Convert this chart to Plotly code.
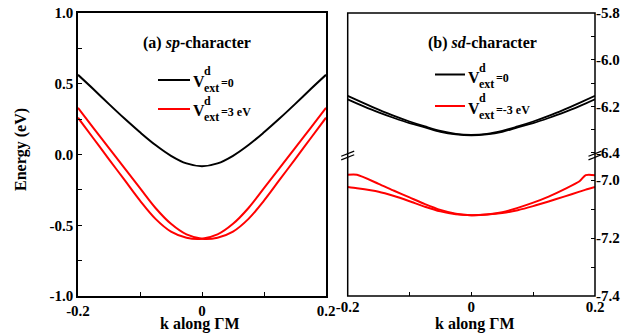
import plotly.graph_objects as go

# ---------------- data ----------------
k = [-0.2, -0.175, -0.15, -0.125, -0.1, -0.075, -0.05, -0.025, 0.0,
     0.025, 0.05, 0.075, 0.1, 0.125, 0.15, 0.175, 0.2]

# (a) sp-character
sp_black = [0.563, 0.461, 0.356, 0.254, 0.157, 0.067, -0.009, -0.063, -0.083,
            -0.063, -0.009, 0.067, 0.157, 0.254, 0.356, 0.461, 0.563]
sp_red_1 = [0.330, 0.187, 0.045, -0.097, -0.238, -0.378, -0.490, -0.565, -0.595,
            -0.588, -0.545, -0.455, -0.326, -0.180, -0.034, 0.113, 0.260]
sp_red_2 = [0.260, 0.113, -0.034, -0.180, -0.326, -0.455, -0.545, -0.588, -0.595,
            -0.565, -0.490, -0.378, -0.238, -0.097, 0.045, 0.187, 0.330]

# (b) sd-character, upper part of broken axis
sd_black_1 = [-6.155, -6.185, -6.214, -6.241, -6.265, -6.286, -6.305, -6.318, -6.322,
              -6.318, -6.305, -6.286, -6.265, -6.241, -6.214, -6.185, -6.155]
sd_black_2 = [-6.170, -6.199, -6.226, -6.250, -6.272, -6.290, -6.309, -6.320, -6.324,
              -6.320, -6.309, -6.290, -6.272, -6.250, -6.226, -6.199, -6.170]

# (b) sd-character, lower part of broken axis
k_red_b = [-0.2, -0.185, -0.15, -0.125, -0.1, -0.075, -0.05, -0.025, 0.0,
           0.025, 0.05, 0.075, 0.1, 0.125, 0.15, 0.175, 0.185, 0.2]
sd_red_1 = [-6.982, -6.982, -7.013, -7.037, -7.060, -7.083, -7.103, -7.116, -7.121,
            -7.119, -7.111, -7.096, -7.078, -7.057, -7.032, -7.004, -6.983, -6.983]
sd_red_2 = [-7.024, -7.028, -7.040, -7.055, -7.073, -7.092, -7.108, -7.118, -7.121,
            -7.119, -7.114, -7.104, -7.090, -7.074, -7.057, -7.040, -7.033, -7.024]

x_ticks = [-0.2, -0.1, 0.0, 0.1, 0.2]
x_ticktext = ["-0.2", "", "0", "", "0.2"]
ya_ticks = [-1.0, -0.75, -0.5, -0.25, 0.0, 0.25, 0.5, 0.75, 1.0]
ya_ticktext = ["-1.0", "", "-0.5", "", "0.0", "", "0.5", "", "1.0"]
yb_up_ticks = [-6.4, -6.3, -6.2, -6.1, -6.0, -5.9, -5.8]
yb_up_text = ["-6.4", "", "-6.2", "", "-6.0", "", "-5.8"]
yb_lo_ticks = [-7.4, -7.3, -7.2, -7.1, -7.0]
yb_lo_text = ["-7.4", "", "-7.2", "", "-7.0"]

# ---------------- layout helpers ----------------
W, H = 641, 334
def px(p):
    return p / W
def py(p):
    return 1 - p / H

FONT = "Liberation Serif"
BLACK = "#000000"
RED = "#ff0000"

fig = go.Figure()
fig.add_trace(go.Scatter(x=k, y=sp_black, mode="lines", line=dict(color=BLACK, width=2, shape="spline"),
                         xaxis="x", yaxis="y"))
fig.add_trace(go.Scatter(x=k, y=sp_red_1, mode="lines", line=dict(color=RED, width=2, shape="spline"),
                         xaxis="x", yaxis="y"))
fig.add_trace(go.Scatter(x=k, y=sp_red_2, mode="lines", line=dict(color=RED, width=2, shape="spline"),
                         xaxis="x", yaxis="y"))
fig.add_trace(go.Scatter(x=k, y=sd_black_1, mode="lines", line=dict(color=BLACK, width=1.8, shape="spline"),
                         xaxis="x2", yaxis="y2"))
fig.add_trace(go.Scatter(x=k, y=sd_black_2, mode="lines", line=dict(color=BLACK, width=1.8, shape="spline"),
                         xaxis="x2", yaxis="y2"))
fig.add_trace(go.Scatter(x=k_red_b, y=sd_red_1, mode="lines",
                         line=dict(color=RED, width=2, shape="spline", smoothing=0.6),
                         xaxis="x2", yaxis="y3"))
fig.add_trace(go.Scatter(x=k_red_b, y=sd_red_2, mode="lines",
                         line=dict(color=RED, width=2, shape="spline", smoothing=0.6),
                         xaxis="x2", yaxis="y3"))

y_bot, y_top = py(296), py(13)
y_break = py(156)
tickfont = dict(family=FONT, size=15, color=BLACK, weight="bold")
common = dict(ticks="inside", ticklen=4, tickwidth=1.3, tickcolor=BLACK, showgrid=False,
              zeroline=False, tickfont=tickfont, tickmode="array", automargin=False)

fig.update_layout(
    width=W, height=H, margin=dict(l=0, r=0, t=0, b=0, autoexpand=False),
    paper_bgcolor="white", plot_bgcolor="white", showlegend=False,
    xaxis=dict(domain=[px(78), px(326)], range=[-0.2, 0.2], anchor="y",
               tickvals=x_ticks, ticktext=x_ticktext, showline=True, mirror=True,
               linecolor=BLACK, linewidth=1.5, **common),
    yaxis=dict(domain=[y_bot, y_top], range=[-1.0, 1.0], anchor="x",
               tickvals=ya_ticks, ticktext=ya_ticktext, showline=True, mirror=True,
               linecolor=BLACK, linewidth=1.5, **common),
    xaxis2=dict(domain=[px(347.7), px(595)], range=[-0.2, 0.2], anchor="y3",
                tickvals=x_ticks, ticktext=x_ticktext, showline=False, **common),
    yaxis2=dict(domain=[y_break, y_top], range=[-6.4129, -5.8], anchor="x2", side="right",
                tickvals=yb_up_ticks, ticktext=yb_up_text, showline=False, **common),
    yaxis3=dict(domain=[y_bot, y_break], range=[-7.4, -6.917], anchor="x2", side="right",
                tickvals=yb_lo_ticks, ticktext=yb_lo_text, showline=False, **common),
)

shapes = [
    dict(type="rect", xref="paper", yref="paper", x0=px(347.7), x1=px(595), y0=y_bot, y1=y_top,
         line=dict(color=BLACK, width=1.5), layer="above"),
]
# axis-break marks
for xc in (347.7, 595):
    for dy in (-1.8, 1.8):
        shapes.append(dict(type="line", xref="paper", yref="paper",
                           x0=px(xc - 6.5), y0=py(155.5 + dy + 2.6),
                           x1=px(xc + 6.5), y1=py(155.5 + dy - 2.6),
                           line=dict(color=BLACK, width=1.2)))
# legend sample lines
for (x0, x1, yy, col) in [(158, 190, 80, BLACK), (158, 190, 109, RED),
                          (435, 465, 74.5, BLACK), (435, 465, 106, RED)]:
    shapes.append(dict(type="line", xref="paper", yref="paper", x0=px(x0), x1=px(x1),
                       y0=py(yy), y1=py(yy), line=dict(color=col, width=2)))
fig.update_layout(shapes=shapes)

ann = []
def text(t, x, y, size, xanchor="left", yanchor="middle", angle=0):
    ann.append(dict(text=t, x=px(x), y=py(y), xref="paper", yref="paper", showarrow=False,
                    xanchor=xanchor, yanchor=yanchor, textangle=angle, borderpad=0,
                    font=dict(family=FONT, size=size, color=BLACK, weight="bold")))

# panel titles
text("(a) <i>sp</i>-character", 197, 43, 16, xanchor="center")
text("(b) <i>sd</i>-character", 482, 43, 16, xanchor="center")
# axis titles
text("Energy (eV)", 21, 150, 16, xanchor="center", angle=-90)
text("k along \u0393M", 200, 324, 16, xanchor="center")
text("k along \u0393M", 475, 324, 16, xanchor="center")

# legend entries
def legend_entry(xv, yv, tail):
    text("V", xv, yv, 16)
    text("d", xv + 11, yv - 10, 12)
    text("ext", xv + 11, yv + 6, 12)
    text(tail, xv + 28, yv + 1, 12)

legend_entry(192, 81.5, "=0")
legend_entry(192, 110.5, "=3 eV")
legend_entry(467, 77.5, "=0")
legend_entry(467, 108.5, "=-3 eV")

fig.update_layout(annotations=ann)
fig.write_html("out.html", config={"displayModeBar": False},
               post_script="document.body.style.margin='0px';")
